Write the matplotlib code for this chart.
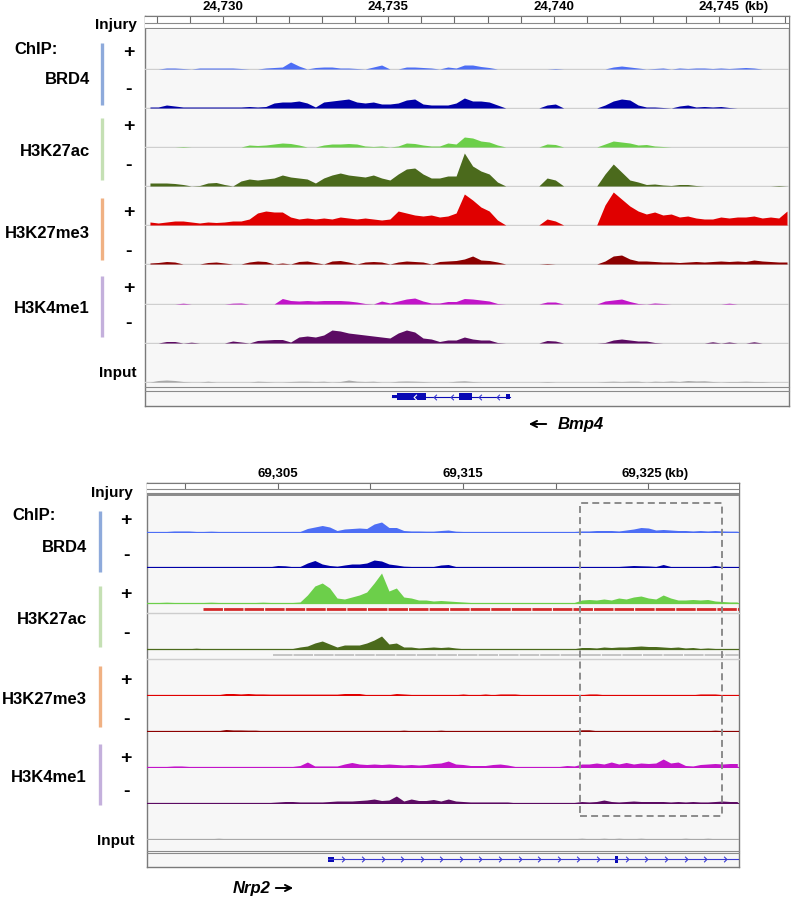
import numpy as np
import matplotlib
matplotlib.use('Agg')
import matplotlib.pyplot as plt
from matplotlib.lines import Line2D
from matplotlib.patches import Rectangle, FancyArrowPatch
from matplotlib.path import Path

W, H = 791, 900
plt.rcParams['font.family'] = ['Liberation Sans', 'DejaVu Sans']
plt.rcParams['lines.scale_dashes'] = False

# ---------------- data (signal heights, one value per genomic bin) ----------------
# top locus (Bmp4), bins of 0.25 kb
TOP_KB = (24727.65, 24747.11)
TOP_BIN0, TOP_STEP = 24727.80, 0.25
top_ticks = [24730, 24735, 24740, 24745]
top_ticklabels = ['24,730', '24,735', '24,740', '24,745']
top_minor = [24728, 24729, 24731, 24732, 24733, 24734, 24736, 24737, 24738, 24739,
             24741, 24742, 24743, 24744, 24746, 24747]

top_brd4_pos = [0, 0, 1, 1, 0.5, 0, 1, 1, 1, 1,
                1, 0.5, 0, 0, 1, 1.5, 2, 7, 3, 0,
                1.5, 2, 2, 1, 1, 0.5, 0, 2, 4, 0,
                0, 2, 2, 1.5, 1, 0, 2, 1, 4, 4,
                2.5, 1.5, 0, 0, 0, 0, 0, 0, 0, 0.5,
                0, 0, 0, 0, 0, 0, 2, 3, 2, 1,
                0, 0.5, 1, 0, 1, 0.5, 1, 1, 0.5, 1,
                0.5, 1, 1.5, 1, 0, 0, 0, 0]
top_brd4_neg = [1, 1, 3, 2, 1, 1, 1, 1, 1, 1,
                1, 1, 1.5, 1, 1.5, 5, 6, 6, 7, 5,
                1, 6, 7, 8, 9, 6, 5, 6, 4, 4,
                5, 8, 9, 4, 3, 3, 3, 5, 10, 7,
                7, 6, 3, 0, 0, 0, 0, 0, 3, 4,
                0, 0, 0, 0, 0, 3, 7, 9, 8, 3,
                1, 1, 0.5, 0, 2, 3, 1, 1.5, 1, 1.5,
                0.5, 0, 0, 0, 0, 0, 0, 0]
top_k27ac_pos = [0, 0, 0, 0, 0.5, 0, 0, 0, 0, 0,
                 0, 0, 2, 1.5, 2, 3, 4, 3.5, 2, 0,
                 0, 2, 3, 3, 3.5, 3, 1, 0.5, 1, 0,
                 1, 4, 3.5, 2, 1, 1, 4, 3, 10, 9,
                 6, 5, 2, 0, 0, 0, 0, 0, 3, 2.5,
                 0, 0, 0, 0, 0, 3, 6, 5, 4, 2,
                 2.5, 1, 0.5, 0, 0, 0, 0, 0, 0, 0,
                 0, 0, 0, 0, 0, 0, 0, 0]
top_k27ac_neg = [3, 3, 3, 2.5, 1.5, 0, 0.5, 3, 3.5, 1.5,
                 0, 5, 7, 6, 7, 8, 11, 9, 8, 7,
                 3, 8, 11, 13, 11, 10, 9, 11, 8, 6,
                 12, 17, 18, 12, 8, 8, 10, 10, 33, 20,
                 15, 12, 4, 0, 0, 0, 0, 0, 8, 6,
                 0, 0, 0, 0, 0, 12, 22, 14, 6, 4,
                 1.5, 2, 1, 0.5, 1.5, 1.5, 0.5, 0, 0, 0,
                 0, 0, 0, 0, 0, 0, 0.5, 0]
top_k27me3_pos = [3, 2, 3, 4, 4, 3, 2, 3, 2.5, 3,
                  4, 4, 6, 12, 14, 13, 13, 8, 6, 7,
                  6, 7, 6, 8, 7, 6, 7, 6, 5, 6,
                  14, 12, 10, 9, 10, 8, 9, 12, 31, 25,
                  18, 14, 5, 0, 0, 0, 0, 0, 6, 4,
                  0, 0, 0, 0, 0, 20, 33, 26, 19, 14,
                  11, 13, 10, 11, 8, 9, 7, 6, 6, 8,
                  7, 8, 8, 9, 7, 8, 7, 14]
top_k27me3_neg = [1, 1.5, 2.5, 2, 0, 0, 0, 1.5, 2, 1,
                  0, 0, 2, 3, 2.5, 0, 1, 0, 2.5, 3,
                  1.5, 0, 3, 3.5, 2, 0, 2, 2.5, 2, 0,
                  2, 3, 2.5, 2, 0, 2.5, 3, 3.5, 5, 8,
                  4, 3.5, 2, 0, 0, 0, 0, 0, 0.5, 0,
                  0, 0, 0, 0, 0, 3, 8, 9, 5, 3,
                  3, 2.5, 2, 2, 1.5, 2, 2.5, 2, 2.5, 3,
                  2.5, 3, 2.5, 4, 3, 2.5, 2, 2]
top_k4me1_pos = [0, 0, 0, 0, 0.8, 0, 0, 0, 0, 0,
                 0.8, 1, 0, 0, 0, 0, 5.5, 3.5, 3, 3.5,
                 3, 3.5, 3.5, 3.5, 3, 2, 0.5, 0, 3, 1,
                 3, 5, 6, 3, 1, 1, 2.5, 2.5, 5.5, 5,
                 4, 3, 0.5, 0, 0, 0, 0, 0, 2, 2,
                 0, 0, 0, 0, 0, 3, 4, 5, 2.5, 0.5,
                 0, 1, 0.5, 0, 0, 0, 0, 0, 0, 0,
                 0.8, 0, 0, 0, 0, 0, 0, 0]
top_k4me1_neg = [0, 0, 1.5, 1.5, 0, 0.8, 0, 0, 0, 0,
                 2, 1, 0, 2.5, 3, 3.5, 3.5, 1, 6, 7,
                 6, 8, 13, 12, 10, 9, 8, 7, 6, 5,
                 10, 13, 11, 5, 4, 1.5, 3, 3, 6, 4,
                 3, 3, 0.5, 0, 0, 0, 0, 0, 2.5, 2,
                 0, 0, 0, 0, 0, 0.5, 3, 4, 3, 2,
                 2, 0.5, 0, 0, 0, 0, 0, 0, 1.2, 0,
                 1, 0, 0, 1.2, 0, 0, 0, 0]
top_input = [0, 1.5, 2, 1.5, 0.5, 0, 0, 0.8, 0, 0,
             0, 0, 0, 0.8, 0.5, 0, 0, 0.5, 0.8, 0.8,
             0.5, 0.8, 0, 0.5, 2, 0.8, 0.5, 0.8, 0, 0,
             0.8, 1, 0.8, 0.5, 0, 0, 0, 0.8, 1.2, 0.5,
             0, 0, 0, 0, 0, 0, 0, 0, 0.5, 0,
             0, 0, 0, 0, 0, 0.5, 0.8, 0.5, 0.8, 0.8,
             0, 0.8, 0.5, 1, 0.5, 1.5, 1, 1.2, 0.5, 0,
             0.5, 0.5, 0.8, 0.5, 0.5, 0, 0, 0]

# Bmp4 gene model (kb)
bmp4_start, bmp4_end = 24735.10, 24738.68
bmp4_blocks = [(24735.10, 24735.27, 3.5), (24735.27, 24736.13, 7),
               (24737.14, 24737.52, 7), (24738.56, 24738.68, 4.5)]
bmp4_chevrons = [24736.41, 24736.92, 24737.77, 24738.31]
bmp4_inner_chevron = 24735.81

# bottom locus (Nrp2), bins of 0.4 kb
BOT_KB = (69297.97, 69329.9)
BOT_BIN0, BOT_STEP = 69298.21, 0.4
bot_ticks = [69305, 69315, 69325]
bot_ticklabels = ['69,305', '69,315', '69,325']
bot_minor = [69300, 69310, 69320]

bot_brd4_pos = [0.5, 0.5, 0.5, 1, 1, 1, 0.5, 0.5, 0.8, 0.5,
                0.5, 0.5, 0.5, 0.5, 0.5, 0.5, 0.5, 0.5, 0.5, 0.5,
                0.5, 3.5, 5, 6.5, 5, 1.5, 3, 3.5, 4, 3.5,
                8, 10, 4.5, 4.5, 1.5, 1, 1, 0.8, 0.8, 1.5,
                2, 0.8, 0.5, 0.5, 0.5, 0.5, 0.5, 0.5, 0.5, 0.5,
                0.5, 0.5, 0.5, 0.5, 0.5, 0.5, 0.5, 0.5, 1, 1,
                1.5, 1.5, 1.5, 1, 2, 3, 4.5, 4, 2, 2.5,
                2, 1.5, 1.5, 1, 1.5, 1, 1.5, 1, 0.8, 0.8]
bot_brd4_neg = [0.3, 0.3, 0.3, 0.3, 0.3, 0.3, 0.3, 0.3, 0.3, 0.3,
                0.3, 0.3, 0.3, 0.3, 0.3, 0.3, 0.3, 1.5, 1.2, 0.3,
                0.5, 4, 6.5, 3, 1.5, 0.8, 2, 3, 3, 4,
                7, 6, 3, 2, 0.8, 0.5, 0.3, 0.3, 0.5, 2,
                2.5, 0.5, 0.3, 0.3, 0.3, 0.3, 0.3, 0.3, 0.3, 0.3,
                0.3, 0.3, 0.3, 0.3, 0.3, 0.3, 0.3, 0.3, 0.3, 0.3,
                0.5, 0.5, 0.3, 0.5, 1, 1.5, 1.2, 1, 0.5, 2.5,
                0.5, 0.3, 0.3, 0.3, 0.3, 0.3, 1.5, 0.3, 0.3, 0.3]
bot_k27ac_pos = [0.5, 0.5, 0.8, 0.5, 0.5, 0.5, 0.5, 0.5, 0.8, 0.5,
                 0.5, 0.5, 0.5, 0.5, 0.5, 0.8, 0.5, 0.5, 0.5, 0.5,
                 1, 8, 17, 20, 15, 5, 4, 6, 8, 11,
                 20, 30, 12, 15, 6, 5, 3, 3, 2, 2.5,
                 2, 1.5, 1, 0.5, 0.5, 0.5, 0.5, 0.5, 0.5, 0.5,
                 0.5, 0.5, 0.5, 0.5, 0.5, 0.5, 0.5, 0.5, 3, 3.5,
                 3, 4, 3, 5, 4, 6, 7, 5, 4, 8,
                 5, 3, 3, 3.5, 3, 3.5, 2, 1.5, 1, 1]
bot_k27ac_neg = [0.3, 0.3, 0.5, 0.3, 0.3, 0.3, 0.8, 0.3, 0.3, 0.3,
                 0.3, 0.5, 0.3, 0.3, 0.3, 0.3, 0.3, 0.3, 0.3, 0.5,
                 2, 3, 6, 8, 5, 2, 4, 4, 4, 6,
                 9, 13, 5, 6, 2, 2, 1, 1.5, 2, 1.5,
                 2, 1, 0.3, 0.3, 0.3, 0.3, 0.3, 0.3, 0.3, 0.3,
                 0.3, 0.3, 0.3, 0.3, 0.3, 0.3, 0.3, 0.3, 1.5, 1.5,
                 1, 2, 1.5, 2, 2, 2.5, 3, 2.5, 2.5, 2,
                 1.5, 2, 1, 1.5, 0.5, 1, 0.5, 0.5, 0.3, 0.3]
bot_k27me3_pos = [0.3, 0.3, 0.3, 0.3, 0.3, 0.3, 0.3, 0.3, 0.3, 0.3,
                  1.5, 1.5, 1, 1.5, 1, 1, 0.8, 0.8, 0.8, 0.8,
                  0.8, 0.8, 0.8, 0.8, 0.8, 0.8, 1.5, 1.5, 1.5, 0.3,
                  0.3, 0.3, 0.3, 1.5, 1, 0.5, 0.3, 0.3, 0.3, 0.3,
                  0.3, 0.3, 1, 0.3, 0.3, 1, 0.3, 1, 1, 1,
                  0.3, 0.3, 0.3, 0.3, 0.3, 0.3, 0.3, 0.3, 0.3, 1,
                  1, 0.3, 0.3, 0.3, 0.3, 0.3, 0.3, 0.3, 0.3, 0.3,
                  0.3, 0.3, 0.3, 0.3, 1, 1, 1, 0.3, 0.3, 0.3]
bot_k27me3_neg = [0.3, 0.3, 0.3, 0.3, 0.3, 0.3, 0.3, 0.3, 0.3, 0.3,
                  1.5, 1, 1, 0.8, 0.8, 0.3, 0.3, 0.3, 0.3, 0.3,
                  0.3, 0.3, 0.3, 0.3, 0.3, 0.3, 0.3, 0.3, 0.3, 0.3,
                  0.3, 0.3, 0.3, 0.3, 0.8, 0.3, 0.3, 0.3, 0.3, 0.8,
                  0.3, 0.3, 0.3, 0.3, 0.3, 0.3, 0.3, 0.3, 0.3, 0.3,
                  0.3, 0.3, 0.3, 0.3, 0.3, 0.3, 0.3, 0.3, 1.2, 1.2,
                  0.3, 0.3, 0.3, 0.3, 0.3, 0.3, 0.3, 0.3, 0.3, 0.3,
                  0.3, 0.3, 0.3, 0.3, 0.3, 0.3, 0.8, 0.3, 0.3, 0.3]
bot_k4me1_pos = [0.5, 0.5, 0.5, 1, 1, 0.5, 0.5, 0.5, 0.5, 0.5,
                 0.5, 0.5, 0.5, 0.5, 0.5, 0.5, 0.5, 0.5, 0.5, 0.5,
                 1.5, 5, 1, 1, 1, 1, 3, 4.5, 3, 2.5,
                 3, 2.5, 3, 2.5, 2, 2.5, 2, 2.5, 3.5, 4,
                 6, 3, 2.5, 1.5, 1.5, 1.5, 2.5, 3, 2, 0.5,
                 0.5, 0.5, 0.5, 0.5, 0.5, 0.5, 1.5, 1, 3, 3,
                 4, 3, 5, 3, 4.5, 3, 4, 3.5, 4, 8,
                 4, 5, 1.5, 1, 2.5, 3, 3.5, 3, 3.5, 3.5]
bot_k4me1_neg = [0.5, 0.5, 0.5, 0.5, 0.5, 0.5, 0.5, 0.5, 0.5, 0.5,
                 0.5, 0.5, 0.5, 0.5, 0.5, 0.5, 0.5, 1, 1.5, 1.5,
                 1, 1, 1, 1, 1.5, 2, 2, 2, 2.5, 3,
                 4, 2.5, 3, 7, 2, 4, 2.5, 2.5, 3.5, 2,
                 4, 2, 1.5, 1, 1, 1, 1, 1, 1, 0.3,
                 0.3, 0.3, 0.3, 0.3, 0.3, 0.3, 0.3, 0.5, 1.5, 1,
                 1.5, 3, 1.5, 1, 1.5, 2, 1.5, 1.5, 1.5, 1.5,
                 1, 1.5, 1, 1.5, 1, 1, 1.5, 2, 1.5, 1.5]
bot_input = [0.3, 0.3, 0.5, 0.3, 0.3, 0.3, 0.3, 0.3, 0.3, 0.8,
             0.3, 0.3, 0.3, 0.3, 0.3, 0.3, 0.3, 0.3, 0.3, 0.3,
             0.5, 0.3, 0.3, 0.3, 0.3, 0.5, 0.3, 0.3, 0.3, 0.3,
             0.3, 0.3, 0.3, 0.3, 0.3, 0.3, 0.3, 0.3, 0.3, 0.3,
             0.3, 0.3, 0.3, 0.3, 0.3, 0.3, 0.3, 0.3, 0.3, 0.3,
             0.3, 0.3, 0.3, 0.3, 0.3, 0.3, 0.3, 0.3, 0.8, 0.3,
             0.3, 0.8, 0.3, 0.8, 0.3, 0.3, 0.8, 0.3, 0.3, 0.3,
             0.3, 0.3, 0.8, 0.3, 0.3, 0.8, 0.3, 0.3, 0.3, 0.3]

# peak-call features in the H3K27ac rows
k27ac_pos_feature = (69300.96, 69329.9)
k27ac_neg_feature = (69304.77, 69329.9)

# Nrp2 gene model (kb)
nrp2_start, nrp2_end = 69307.72, 69329.9
nrp2_blocks = [(69307.72, 69308.04, 5), (69323.21, 69323.39, 7)]
nrp2_chevrons = [69308.55, 69309.59, 69310.67, 69311.70, 69312.78, 69313.82,
                 69314.88, 69315.93, 69317.01, 69318.09, 69319.13, 69320.19,
                 69321.23, 69322.31, 69323.84, 69324.88, 69325.96, 69327.03,
                 69328.07, 69329.15]

# colours
C = {'brd4_pos': '#4d6ef5', 'brd4_neg': '#0000a8',
     'k27ac_pos': '#6ccf4a', 'k27ac_neg': '#4b6a1c',
     'k27me3_pos': '#e00000', 'k27me3_neg': '#8c0000',
     'k4me1_pos': '#c214c9', 'k4me1_neg': '#5c0b63',
     'input': '#a8a8a8'}
BAR = {'BRD4': '#8eaadb', 'H3K27ac': '#c5e0b4',
       'H3K27me3': '#f0b183', 'H3K4me1': '#c4b0dc'}
GENE = '#0a0ab4'
FRAME = '#7a7a7a'

fig = plt.figure(figsize=(W / 100, H / 100), dpi=100)


def px_axes(left, top, width, height):
    return fig.add_axes([left / W, 1 - (top + height) / H, width / W, height / H])


def hline(y, x0, x1, color='#8a8a8a', lw=0.8):
    fig.add_artist(Line2D([x0 / W, x1 / W], [1 - y / H, 1 - y / H],
                          transform=fig.transFigure, color=color, lw=lw))


def vbar(x, y0, y1, color):
    fig.add_artist(Line2D([x / W, x / W], [1 - y0 / H, 1 - y1 / H],
                          transform=fig.transFigure, color=color, lw=2.4,
                          solid_capstyle='butt'))


def label(x, y, s, size=12, ha='right', style='normal'):
    fig.text(x / W, 1 - y / H, s, fontsize=size, ha=ha, va='center',
             fontweight='bold', fontstyle=style)


def panel(x0, y0, x1, y1, kb, ticks, ticklabels, minor, tick_len, rul_h, rul_lines,
          last_dx, kb_dx):
    bg = px_axes(x0, y0, x1 - x0, y1 - y0)
    bg.set_facecolor('#f7f7f7')
    bg.set_xticks([])
    bg.set_yticks([])
    for s in bg.spines.values():
        s.set_color(FRAME)
        s.set_linewidth(1.0)
    ru = px_axes(x0, y0, x1 - x0, rul_h)
    ru.set_facecolor('white')
    ru.set_xlim(kb)
    ru.set_ylim(rul_h, 0)
    ru.set_yticks([])
    ru.xaxis.set_ticks_position('top')
    ru.set_xticks(ticks)
    ru.set_xticks(minor, minor=True)
    ru.tick_params(which='both', direction='in', length=tick_len, width=0.8,
                   color='#6a6a6a', labeltop=False, labelbottom=False)
    for s in ru.spines.values():
        s.set_visible(False)
    ru.spines['top'].set_visible(True)
    ru.spines['top'].set_color(FRAME)
    for yy, lw in rul_lines:
        ru.axhline(yy, color='#8a8a8a', lw=lw)
    # tick labels above the ruler
    for i, (t, lab) in enumerate(zip(ticks, ticklabels)):
        dx = last_dx if i == len(ticks) - 1 else 0
        ru.annotate(lab, xy=(t, 1), xycoords=('data', 'axes fraction'),
                    xytext=(dx, 6.5), textcoords='offset points', ha='center',
                    va='center', fontsize=9.5, fontweight='bold', annotation_clip=False)
    ru.annotate('(kb)', xy=(ticks[-1], 1), xycoords=('data', 'axes fraction'),
                xytext=(kb_dx, 6.5), textcoords='offset points', ha='left',
                va='center', fontsize=9.5, fontweight='bold', annotation_clip=False)
    return bg


def track(x0, x1, kb, bin0, step, vals, color, top, base, bottom, base_color, base_lw):
    ax = px_axes(x0, top, x1 - x0, bottom - top)
    ax.set_xlim(kb)
    ax.set_ylim(-(bottom - base), base - top)
    ax.axis('off')
    xs = bin0 + step * np.arange(len(vals))
    ax.axhline(0, color=base_color, lw=base_lw, zorder=1)
    ax.fill_between(xs, 0, vals, color=color, lw=0, zorder=2)
    return ax


def chevron(direction):
    d = 1 if direction == 'right' else -1
    return Path([(-0.5 * d, 1), (0.5 * d, 0), (-0.5 * d, -1)],
                [Path.MOVETO, Path.LINETO, Path.LINETO])


# ---------------- top panel (Bmp4) ----------------
TX0, TX1 = 145, 789
panel(TX0, 16, TX1, 406, TOP_KB, top_ticks, top_ticklabels, top_minor, 4.8, 13.3,
      [(7.3, 0.8), (11.7, 0.8), (13.0, 1.4)], 0, 18)

top_tracks = [
    (top_brd4_pos, C['brd4_pos'], 29.7, 69),
    (top_brd4_neg, C['brd4_neg'], 69, 108),
    (top_k27ac_pos, C['k27ac_pos'], 108, 147),
    (top_k27ac_neg, C['k27ac_neg'], 147, 186),
    (top_k27me3_pos, C['k27me3_pos'], 186, 225),
    (top_k27me3_neg, C['k27me3_neg'], 225, 264),
    (top_k4me1_pos, C['k4me1_pos'], 264, 304),
    (top_k4me1_neg, C['k4me1_neg'], 304, 343),
    (top_input, C['input'], 343, 382),
]
for vals, col, top, base in top_tracks:
    track(TX0, TX1, TOP_KB, TOP_BIN0, TOP_STEP, vals, col, top, base, base + 1,
          '#cfcfcf', 1.0)

hline(387.3, TX0, TX1, '#8a8a8a', 0.8)
hline(390.7, TX0, TX1, '#8a8a8a', 0.8)

g = px_axes(TX0, 389, TX1 - TX0, 16)
g.set_xlim(TOP_KB)
g.set_ylim(0, 16)
g.axis('off')
gy = 8.3
g.plot([bmp4_start, bmp4_end], [gy, gy], color=GENE, lw=0.8)
for s, e, h in bmp4_blocks:
    g.broken_barh([(s, e - s)], (gy - h / 2, h), facecolors=GENE)
g.plot(bmp4_chevrons, [gy] * len(bmp4_chevrons), ls='none', marker=chevron('left'),
       ms=4, mfc='none', mec='#3a3ad0', mew=0.8)
g.plot([bmp4_inner_chevron], [gy], ls='none', marker=chevron('left'),
       ms=4, mfc='none', mec='white', mew=0.8)

# left labels, top panel
label(137, 25, 'Injury', 11)
label(14, 50, 'ChIP:', 12, ha='left')
top_groups = [('BRD4', 79, 43, 105, 52, 89),
              ('H3K27ac', 152, 118, 180, 127, 166),
              ('H3K27me3', 233, 198, 260, 213, 252),
              ('H3K4me1', 309, 276, 337, 289, 324)]
for name, ly, b0, b1, yp, ym in top_groups:
    label(90, ly, name, 12)
    vbar(102, b0, b1, BAR[name])
    label(129, yp, '+', 14, ha='center')
    label(129, ym, '-', 14, ha='center')
label(137, 373, 'Input', 11)

# gene name
fig.add_artist(FancyArrowPatch(
    (549 / W, 1 - 424 / H), (526 / W, 1 - 424 / H), transform=fig.transFigure,
    arrowstyle='->', mutation_scale=11, lw=1.4, color='black'))
label(558, 425, 'Bmp4', 12, ha='left', style='italic')

# ---------------- bottom panel (Nrp2) ----------------
BX0, BX1 = 147.3, 739
panel(BX0, 482.7, BX1, 867, BOT_KB, bot_ticks, bot_ticklabels, bot_minor,
      4.3, 13.3, [(6.3, 0.8), (10.6, 0.8), (12.6, 1.4)], -4.5, 11.5)

bot_tracks = [
    (bot_brd4_pos, C['brd4_pos'], 496, 532, 532.5),
    (bot_brd4_neg, C['brd4_neg'], 532, 567, 567.5),
    (bot_k27ac_pos, C['k27ac_pos'], 567, 603, 613),
    (bot_k27ac_neg, C['k27ac_neg'], 613, 649, 659),
    (bot_k27me3_pos, C['k27me3_pos'], 659, 695, 695.5),
    (bot_k27me3_neg, C['k27me3_neg'], 695, 731, 731.5),
    (bot_k4me1_pos, C['k4me1_pos'], 731, 767, 767.5),
    (bot_k4me1_neg, C['k4me1_neg'], 767, 803, 803.5),
    (bot_input, C['input'], 803, 839, 839.5),
]
axs = []
for vals, col, top, base, bottom in bot_tracks:
    a = track(BX0, BX1, BOT_KB, BOT_BIN0, BOT_STEP, vals, col, top, base, bottom,
              col, 0.9)
    axs.append(a)

# feature rows under H3K27ac tracks
axs[2].plot(k27ac_pos_feature, [-6, -6], color='#d42a2a', lw=2.0, ls=(0, (14, 0.8)),
            solid_capstyle='butt')
axs[3].plot(k27ac_neg_feature, [-6, -6], color='#c4c4c4', lw=1.4, ls=(0, (14, 0.8)))
hline(613.3, BX0, BX1, '#cdcdcd', 1.0)
hline(659, BX0, BX1, '#cdcdcd', 1.0)

hline(850.7, BX0, BX1, '#8a8a8a', 0.8)
hline(853.3, BX0, BX1, '#8a8a8a', 0.8)

g2 = px_axes(BX0, 853.5, BX1 - BX0, 13.5)
g2.set_xlim(BOT_KB)
g2.set_ylim(0, 13.5)
g2.axis('off')
gy2 = 8
g2.plot([nrp2_start, nrp2_end], [gy2, gy2], color='#3a3ad0', lw=0.8)
for s, e, h in nrp2_blocks:
    g2.broken_barh([(s, e - s)], (gy2 - h / 2, h), facecolors=GENE)
g2.plot(nrp2_chevrons, [gy2] * len(nrp2_chevrons), ls='none', marker=chevron('right'),
        ms=4, mfc='none', mec='#3a3ad0', mew=0.8)

# dashed highlight box
fig.add_artist(Rectangle((580 / W, 1 - 815.7 / H), (721.7 - 580) / W, (815.7 - 503.3) / H,
                         transform=fig.transFigure, fill=False, ec='#8c8c8c', lw=1.4,
                         ls=(0, (5, 3))))

# left labels, bottom panel
label(133, 493, 'Injury', 11)
label(12, 515, 'ChIP:', 12, ha='left')
bot_groups = [('BRD4', 547, 511, 572, 520, 556),
              ('H3K27ac', 619, 586, 647, 594, 634),
              ('H3K27me3', 700, 666, 727, 680, 719),
              ('H3K4me1', 777, 744, 805, 758, 792)]
for name, ly, b0, b1, yp, ym in bot_groups:
    label(87, ly, name, 12)
    vbar(100, b0, b1, BAR[name])
    label(126, yp, '+', 14, ha='center')
    label(126, ym, '-', 14, ha='center')
label(135, 841, 'Input', 11)

label(233, 889, 'Nrp2', 12, ha='left', style='italic')
fig.add_artist(FancyArrowPatch(
    (273 / W, 1 - 888 / H), (296 / W, 1 - 888 / H), transform=fig.transFigure,
    arrowstyle='->', mutation_scale=11, lw=1.4, color='black'))

fig.savefig('out.png', dpi=100, facecolor='white')
